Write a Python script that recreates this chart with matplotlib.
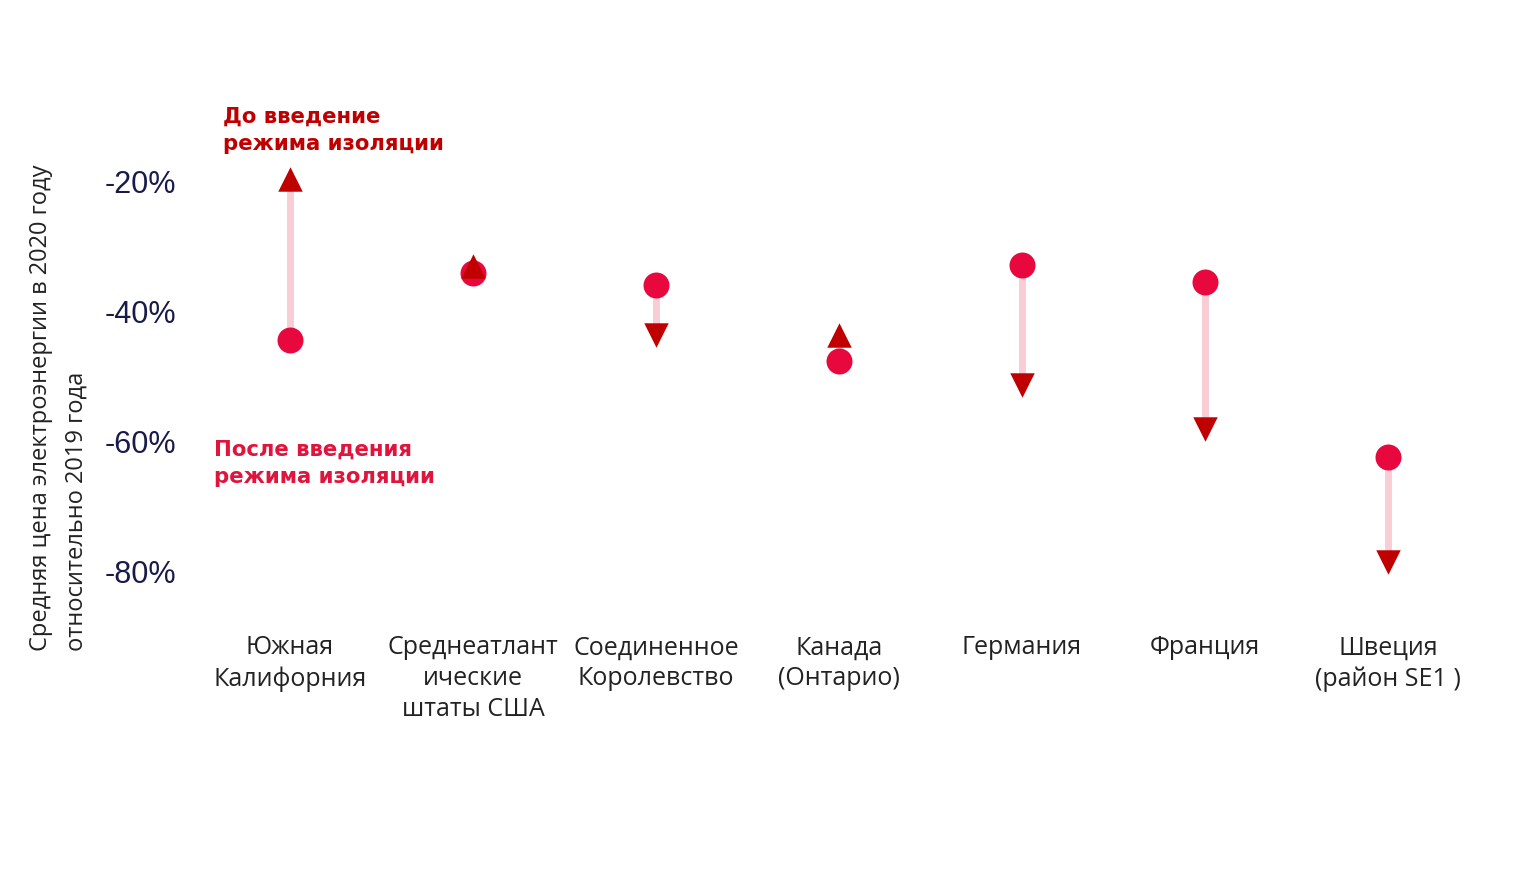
import matplotlib.pyplot as plt
import numpy as np

# données (%)
regions = ['Южная\nКалифорния', 'Среднеатлант\nические\nштаты США', 'Соединенное\nКоролевство',
           'Канада\n(Онтарио)', 'Германия', 'Франция', 'Швеция\n(район SE1 )']
avant = [-19.5, -33.0, -43.5, -43.5, -51.3, -58.0, -78.5]   # triangles
apres = [-44.3, -34.0, -35.9, -47.5, -32.8, -35.4, -62.4]   # cercles
yticks = [-20, -40, -60, -80]
ytick_labels = ['-20%', '-40%', '-60%', '-80%']

fig = plt.figure(figsize=(15.19, 8.85), dpi=100)
ax = fig.add_axes([200 / 1519, 1 - 620 / 885, 1280 / 1519, 520 / 885])

x = np.arange(len(regions))
avant = np.array(avant)
apres = np.array(apres)

# segments entre les deux valeurs
for i in x:
    ax.plot([x[i], x[i]], [apres[i], avant[i]], color='#f9cdd5', linewidth=5, zorder=1,
            solid_capstyle='butt')
ax.scatter(x, apres, s=350, color='#e8083e', zorder=2, linewidths=0)

# triangle vers le haut si hausse, vers le bas si baisse
haut = avant >= apres
ax.scatter(x[haut], avant[haut], s=310, marker=[(-1, -1), (1, -1), (0, 1)],
           color='#c00000', zorder=3, linewidths=0)
ax.scatter(x[~haut], avant[~haut], s=310, marker=[(-1, 1), (1, 1), (0, -1)],
           color='#c00000', zorder=3, linewidths=0)

ax.set_xlim(-0.492, 6.503)
ax.set_ylim(-87.4, -7.4)
ax.set_yticks(yticks)
ax.set_yticklabels(ytick_labels, fontsize=22, color='#1a1a4a', family='Liberation Sans')
ax.set_xticks(x)
ax.set_xticklabels(regions, fontsize=18, color='#222222', family='Open Sans', linespacing=1.3)
ax.tick_params(axis='y', length=0, pad=17)
ax.tick_params(axis='x', length=0, pad=11)
for s in ax.spines.values():
    s.set_visible(False)

fig.text(59 / 1519, 1 - 408 / 885, 'Средняя цена электроэнергии в 2020 году\nотносительно 2019 года',
         rotation=90, fontsize=17, family='Open Sans', color='#222222', ha='center', va='center',
         multialignment='left', linespacing=1.65)

fig.text(223 / 1519, 1 - 107 / 885, 'До введение\nрежима изоляции', fontsize=15.3, fontweight='bold',
         color='#c00000', ha='left', va='top', linespacing=1.45)
fig.text(214 / 1519, 1 - 440 / 885, 'После введения\nрежима изоляции', fontsize=15.3, fontweight='bold',
         color='#e0143c', ha='left', va='top', linespacing=1.45)

fig.savefig('out.png', dpi=100, facecolor='white')
